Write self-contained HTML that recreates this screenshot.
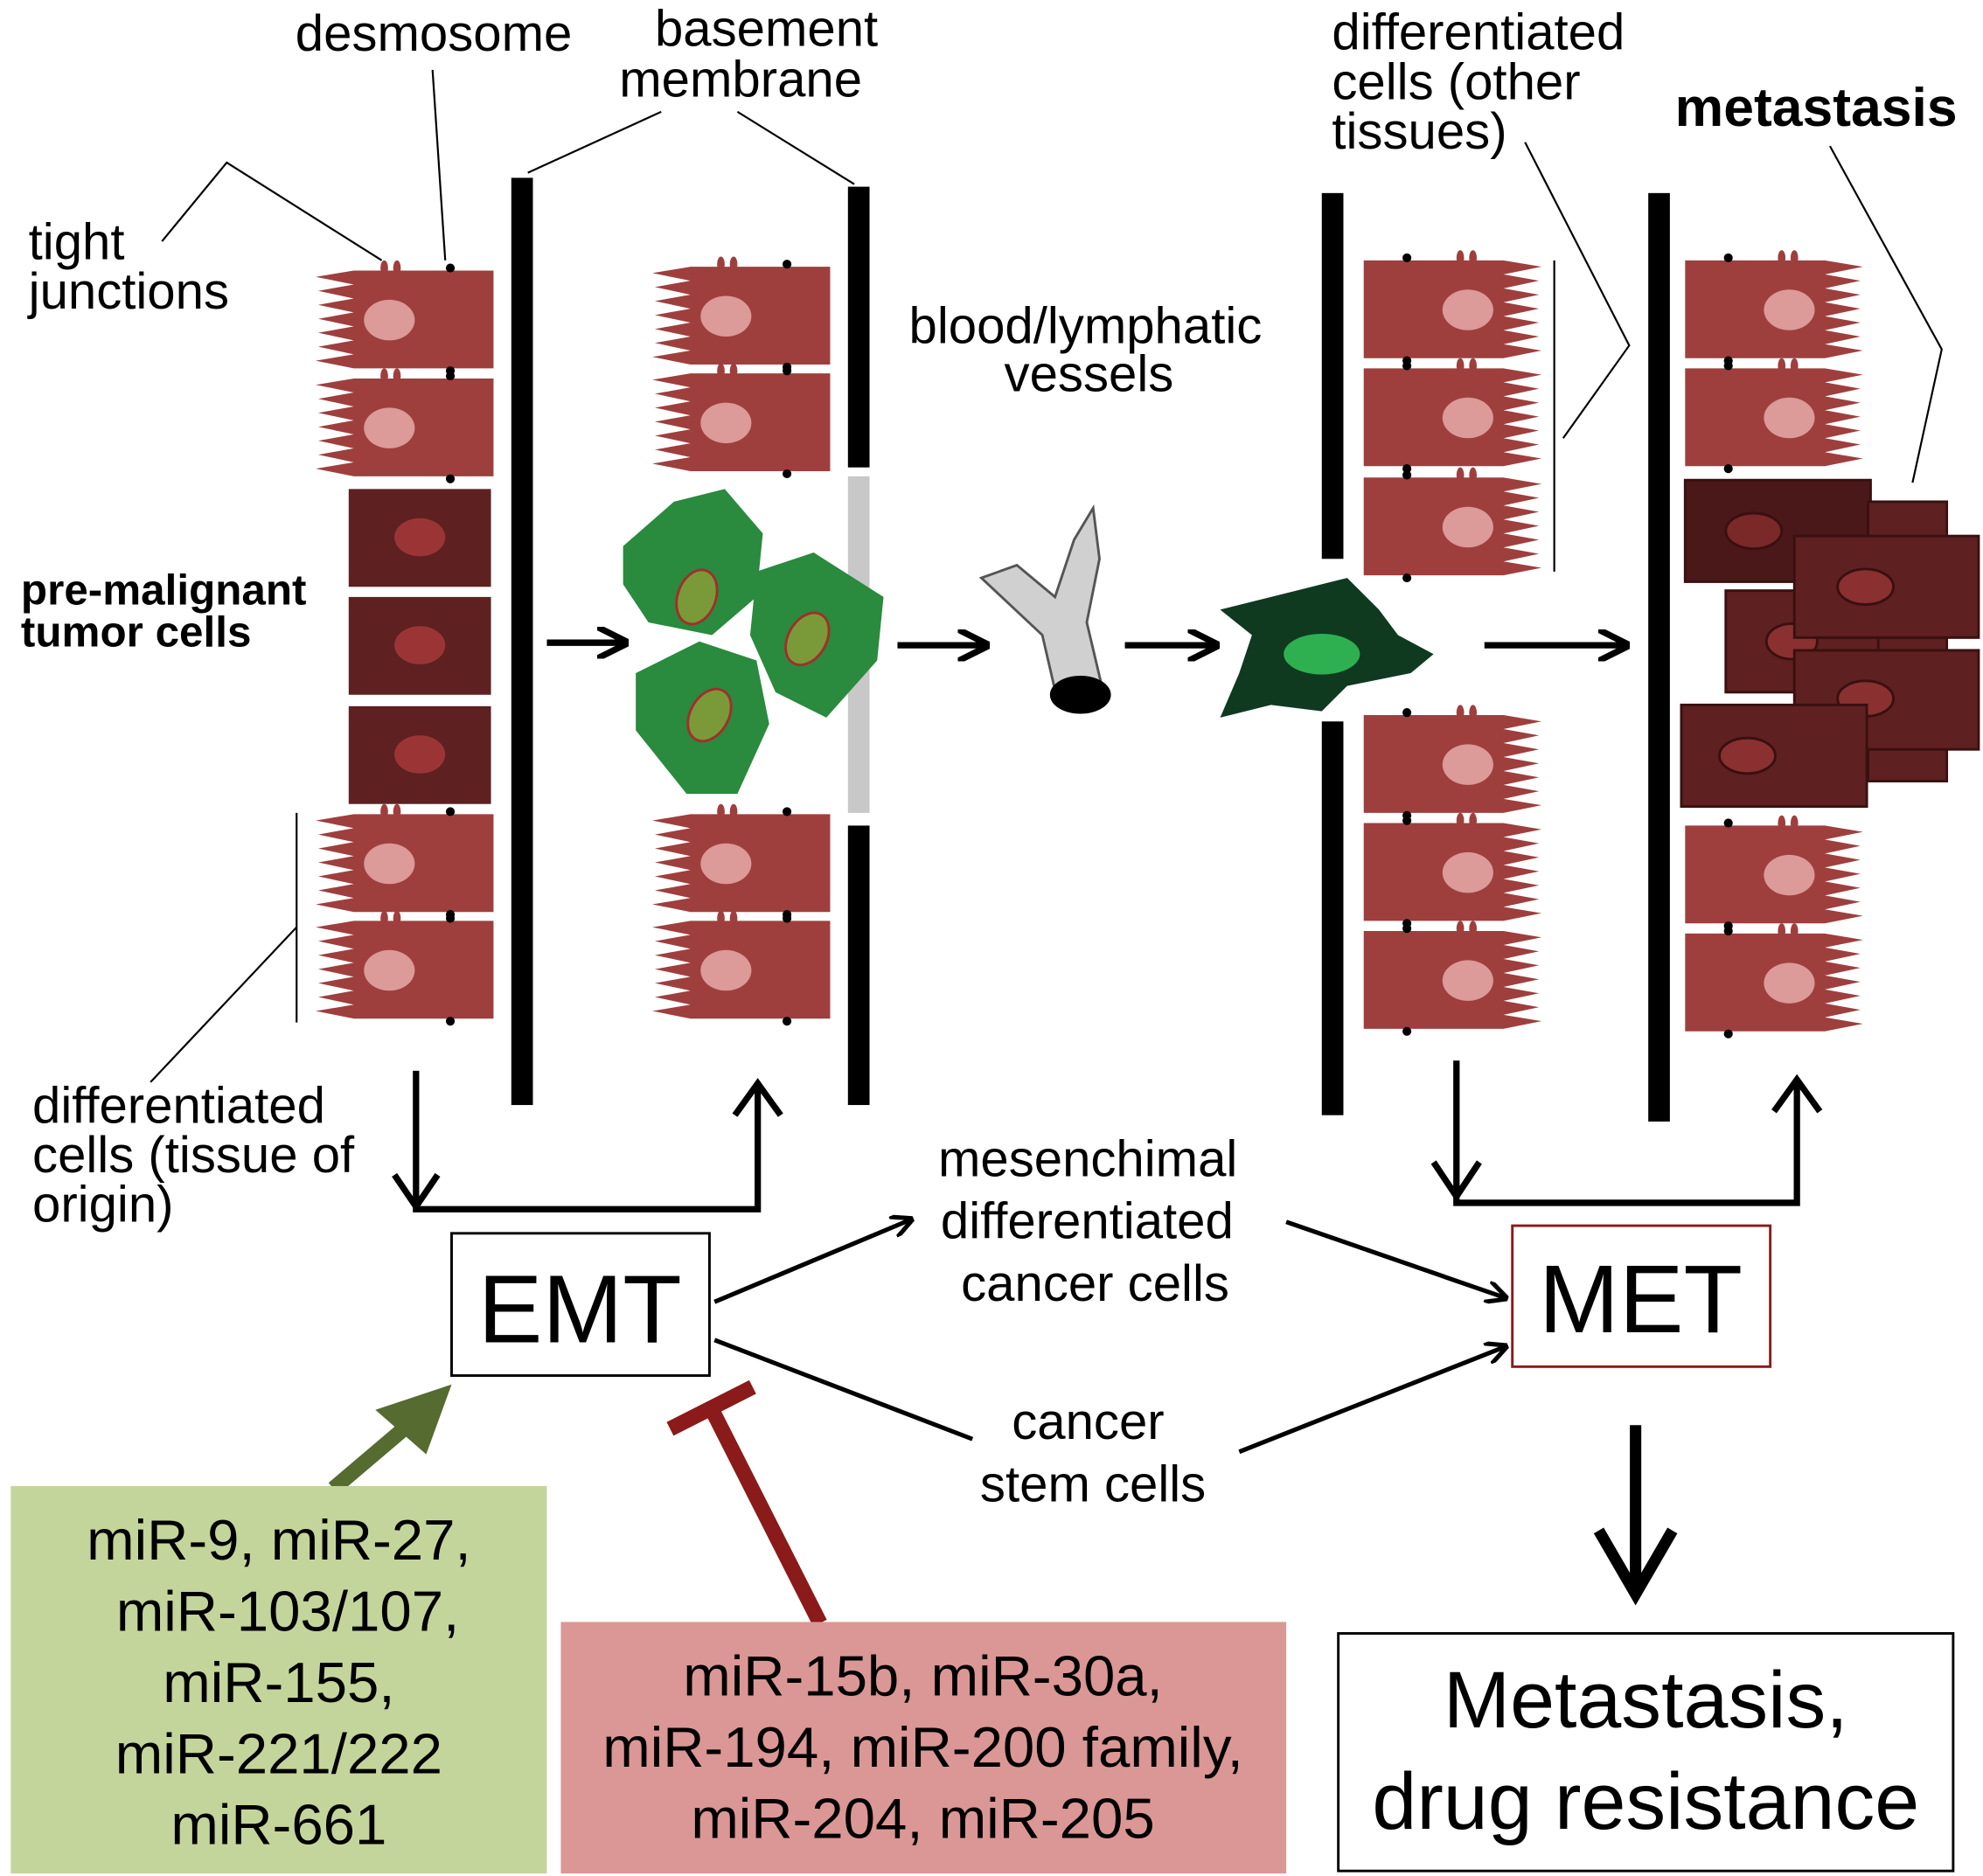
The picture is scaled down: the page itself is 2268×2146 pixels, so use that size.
<!DOCTYPE html>
<html><head><meta charset="utf-8"><style>html,body{margin:0;padding:0;background:#fff}svg{display:block}</style></head>
<body>
<svg xmlns="http://www.w3.org/2000/svg" width="2268" height="2146" viewBox="0 0 1560 1477" font-family="Liberation Sans, Arial, sans-serif">
<defs>
<g id="cell">
<path d="M30,0 H140 V77 H30 L0,71 L30,66 L2,60 L30,55 L2,49 L30,44 L2,38 L30,33 L2,27 L30,22 L2,16 L30,11 L0,5 Z" fill="#9e3f3e"/>
<ellipse cx="58" cy="39" rx="20" ry="16" fill="#dc9a98"/>
<ellipse cx="54" cy="-2" rx="3" ry="6" fill="#9e3f3e"/><ellipse cx="64" cy="-2" rx="3" ry="6" fill="#9e3f3e"/>
<circle cx="106" cy="-2" r="3.5" fill="#000"/><circle cx="106" cy="79" r="3.5" fill="#000"/>
</g>
<g id="dcell">
<rect x="0" y="0" width="112" height="77" fill="#5e2020"/>
<ellipse cx="56" cy="38" rx="20" ry="15" fill="#9b3535"/>
</g>
<marker id="ah" viewBox="0 0 10 10" refX="9" refY="5" markerWidth="5" markerHeight="5" orient="auto"><path d="M0,0 L10,5 L0,10" fill="none" stroke="#000" stroke-width="2"/></marker>
</defs>
<g font-size="40" fill="#000">
<text x="232" y="40">desmosome</text>
<text x="515" y="36">basement</text><text x="487" y="76">membrane</text>
<text x="22" y="204">tight</text><text x="22" y="243">junctions</text>
<text x="715" y="270">blood/lymphatic</text><text x="790" y="308">vessels</text>
<text x="1048" y="39">differentiated</text><text x="1048" y="78">cells (other</text><text x="1048" y="117">tissues)</text>
<text x="25" y="884">differentiated</text><text x="25" y="923">cells (tissue of</text><text x="25" y="962">origin)</text>
<text x="738" y="926">mesenchimal</text><text x="740" y="975">differentiated</text><text x="756" y="1024">cancer cells</text>
<text x="796" y="1133">cancer</text><text x="771" y="1182">stem cells</text>
</g>
<text x="1318" y="99" font-size="43" font-weight="bold">metastasis</text>
<g font-size="34" font-weight="bold"><text x="16" y="476">pre-malignant</text><text x="16" y="509">tumor cells</text></g>
<g stroke="#000" stroke-width="1.5" fill="none">
<path d="M127,190 L178,128 L300,205"/><path d="M340,55 L350,205"/>
<path d="M415,136 L520,88"/><path d="M580,88 L672,145"/>
<path d="M1200,112 L1282,272 L1230,345"/><path d="M1223,205 V450"/>
<path d="M1440,115 L1528,275 L1505,380"/>
<path d="M233,640 V805"/><path d="M118,852 L233,730"/>
</g>
<rect x="402" y="140" width="17" height="730" fill="#000"/>
<rect x="667" y="147" width="17" height="221" fill="#000"/>
<rect x="667" y="375" width="17" height="265" fill="#c8c8c8"/>
<rect x="667" y="650" width="17" height="220" fill="#000"/>
<rect x="1040" y="152" width="17" height="288" fill="#000"/>
<rect x="1040" y="568" width="17" height="310" fill="#000"/>
<rect x="1297" y="152" width="17" height="731" fill="#000"/>
<use href="#cell" x="248" y="213"/><use href="#cell" x="248" y="298"/>
<use href="#dcell" x="274" y="385"/><use href="#dcell" x="274" y="470"/><use href="#dcell" x="274" y="556"/>
<use href="#cell" x="248" y="641"/><use href="#cell" x="248" y="725"/>
<use href="#cell" x="513" y="210"/><use href="#cell" x="513" y="294"/>
<use href="#cell" x="513" y="641"/><use href="#cell" x="513" y="725"/>
<g fill="#2a8a3e">
<path d="M490,430 L530,395 L570,385 L600,420 L595,470 L560,500 L510,490 L490,460 Z"/>
<path d="M595,450 L640,435 L695,470 L690,520 L650,565 L610,545 L590,500 Z"/>
<path d="M500,530 L550,505 L595,520 L605,570 L580,625 L540,625 L500,575 Z"/>
</g>
<g fill="#7a9a3a" stroke="#a0302a" stroke-width="2">
<ellipse cx="548" cy="470" rx="15" ry="22" transform="rotate(20 548 470)"/>
<ellipse cx="635" cy="503" rx="15" ry="22" transform="rotate(30 635 503)"/>
<ellipse cx="558" cy="563" rx="15" ry="22" transform="rotate(30 558 563)"/>
</g>
<path d="M772,455 L800,445 L830,470 L845,425 L860,400 L865,440 L855,490 L868,545 L832,552 L820,500 Z" fill="#d0d0d0" stroke="#555" stroke-width="2"/>
<ellipse cx="850" cy="547" rx="24" ry="15" fill="#000"/>
<path d="M960,480 L1020,465 L1060,455 L1085,480 L1100,500 L1128,515 L1110,530 L1060,540 L1040,560 L1000,555 L960,565 L975,530 L985,500 Z" fill="#0f3a20"/>
<ellipse cx="1040" cy="515" rx="30" ry="16" fill="#2fb050"/>
<g transform="translate(2288,0) scale(-1,1)">
<use href="#cell" x="1075" y="205"/><use href="#cell" x="1075" y="290"/><use href="#cell" x="1075" y="376"/>
<use href="#cell" x="1075" y="563"/><use href="#cell" x="1075" y="648"/><use href="#cell" x="1075" y="733"/>
</g>
<g transform="translate(2794,0) scale(-1,1)">
<use href="#cell" x="1328" y="205"/><use href="#cell" x="1328" y="290"/>
<use href="#cell" x="1328" y="650"/><use href="#cell" x="1328" y="735"/>
</g>
<g stroke="#3a1010" stroke-width="2">
<rect x="1326" y="378" width="146" height="80" fill="#4a1818"/><ellipse cx="1380" cy="418" rx="22" ry="14" fill="#7a2828"/>
<rect x="1470" y="395" width="62" height="220" fill="#5e2020"/>
<rect x="1358" y="465" width="120" height="80" fill="#5e2020"/><ellipse cx="1410" cy="505" rx="20" ry="14" fill="#8a3030"/>
<rect x="1412" y="422" width="145" height="80" fill="#5e2020"/><ellipse cx="1468" cy="462" rx="22" ry="14" fill="#8a3030"/>
<rect x="1412" y="512" width="145" height="78" fill="#5e2020"/><ellipse cx="1468" cy="550" rx="22" ry="14" fill="#8a3030"/>
<rect x="1323" y="555" width="146" height="80" fill="#5e2020"/><ellipse cx="1375" cy="595" rx="22" ry="14" fill="#8a3030"/>
</g>
<g stroke="#000" stroke-width="5" fill="none" marker-end="url(#ah)">
<line x1="430" y1="506" x2="492" y2="506"/>
<line x1="706" y1="508" x2="776" y2="508"/>
<line x1="885" y1="508" x2="957" y2="508"/>
<line x1="1168" y1="508" x2="1280" y2="508"/>
</g>
<g stroke="#000" stroke-width="5" fill="none">
<polyline points="327,843 327,952 596,952 596,855" />
<polyline points="1146,835 1146,947 1414,947 1414,852"/>
</g>
<g stroke="#000" stroke-width="5" fill="none">
<polyline points="310,925 327,950 344,925"/>
<polyline points="578,878 596,853 614,878"/>
<polyline points="1128,915 1146,942 1164,915"/>
<polyline points="1396,875 1414,850 1432,875"/>
</g>
<rect x="355" y="971" width="203" height="112" fill="#fff" stroke="#000" stroke-width="2"/>
<text x="456" y="1057" font-size="76" text-anchor="middle">EMT</text>
<rect x="1190" y="965" width="203" height="111" fill="#fff" stroke="#8b1a1a" stroke-width="2"/>
<text x="1291" y="1049" font-size="76" text-anchor="middle">MET</text>
<g stroke="#000" stroke-width="3.5" fill="none" marker-end="url(#ah)">
<line x1="562" y1="1025" x2="717" y2="960"/>
<line x1="1012" y1="962" x2="1185" y2="1022"/>
<line x1="975" y1="1143" x2="1185" y2="1060"/>
</g>
<line x1="562" y1="1055" x2="765" y2="1133" stroke="#000" stroke-width="3.5"/>
<line x1="1287" y1="1122" x2="1287" y2="1250" stroke="#000" stroke-width="9"/>
<polyline points="1258,1205 1287,1255 1316,1205" fill="none" stroke="#000" stroke-width="9"/>
<line x1="262" y1="1172" x2="335" y2="1110" stroke="#556b2f" stroke-width="12"/>
<polygon points="355,1090 295,1110 335,1145" fill="#556b2f"/>
<line x1="645" y1="1278" x2="560" y2="1110" stroke="#8b1a1a" stroke-width="12"/>
<line x1="527" y1="1125" x2="592" y2="1092" stroke="#8b1a1a" stroke-width="12"/>
<rect x="8" y="1170" width="422" height="305" fill="#c4d59c"/>
<g font-size="45" text-anchor="middle"><text x="219" y="1228">miR-9, miR-27,</text><text x="226" y="1284">miR-103/107,</text><text x="219" y="1340">miR-155,</text><text x="219" y="1396">miR-221/222</text><text x="219" y="1452">miR-661</text></g>
<rect x="441" y="1277" width="571" height="198" fill="#db9795"/>
<g font-size="45" text-anchor="middle"><text x="726" y="1335">miR-15b, miR-30a,</text><text x="726" y="1391">miR-194, miR-200 family,</text><text x="726" y="1447">miR-204, miR-205</text></g>
<rect x="1053" y="1286" width="484" height="187" fill="#fff" stroke="#000" stroke-width="2"/>
<g font-size="63" text-anchor="middle"><text x="1295" y="1360">Metastasis,</text><text x="1295" y="1440">drug resistance</text></g>
</svg>
</body></html>
